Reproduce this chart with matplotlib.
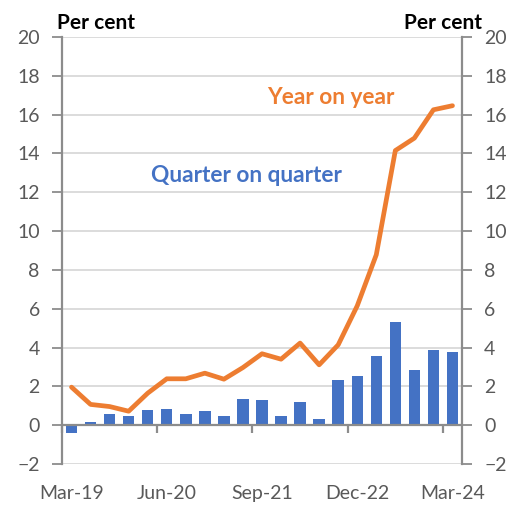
import numpy as np
import matplotlib
matplotlib.use("Agg")
import matplotlib.pyplot as plt

plt.rcParams['font.family'] = ['Lato', 'DejaVu Sans']

quarters = ['Mar-19', 'Jun-19', 'Sep-19', 'Dec-19', 'Mar-20', 'Jun-20', 'Sep-20',
            'Dec-20', 'Mar-21', 'Jun-21', 'Sep-21', 'Dec-21', 'Mar-22', 'Jun-22',
            'Sep-22', 'Dec-22', 'Mar-23', 'Jun-23', 'Sep-23', 'Dec-23', 'Mar-24']
qoq = [-0.38, 0.14, 0.58, 0.45, 0.76, 0.82, 0.58, 0.72, 0.45, 1.37, 1.31,
       0.48, 1.20, 0.34, 2.32, 2.54, 3.57, 5.33, 2.85, 3.87, 3.78]
yoy = [1.96, 1.07, 0.96, 0.72, 1.65, 2.39, 2.39, 2.68, 2.37, 2.97, 3.68,
       3.40, 4.23, 3.11, 4.14, 6.15, 8.78, 14.15, 14.79, 16.25, 16.46]

blue = '#4472C4'
orange = '#ED7D31'
grey = '#595959'
spine = '#8c8c8c'

fig = plt.figure(figsize=(5.12, 5.08), dpi=100)
ax = fig.add_axes([62/512, 44/508, 400/512, 427/508])

x = np.arange(len(quarters))
ax.bar(x, qoq, width=0.6, color=blue, zorder=2)
ax.plot(x, yoy, color=orange, lw=3.4, solid_capstyle='round', zorder=3)

ax.set_xlim(-0.5, len(quarters) - 0.5)
ax.set_ylim(-2, 20)
ax.set_yticks(range(-2, 21, 2))
ax.grid(axis='y', color='#d9d9d9', lw=1.3, zorder=0)
ax.axhline(0, color=spine, lw=1.6, zorder=2.5)

lab_idx = list(range(0, len(quarters), 5))
ax.set_xticks(lab_idx, [quarters[i] for i in lab_idx])
ax.tick_params(axis='x', length=0, pad=15, labelsize=14, labelcolor=grey)
ax.tick_params(axis='y', direction='out', length=7, width=1.3, color=spine,
               labelsize=14, labelcolor=grey, pad=9,
               right=True, labelright=True)
for s in ['left', 'right']:
    ax.spines[s].set_color(spine)
    ax.spines[s].set_linewidth(1.6)
ax.spines['top'].set_visible(False)
ax.spines['bottom'].set_visible(False)

# boundary ticks on the zero line
sec = ax.secondary_xaxis(2 / 22)
sec.set_xticks(np.arange(-0.5, len(quarters), 5))
sec.tick_params(direction='out', length=6, width=1.6, color=spine, labelbottom=False)
sec.spines['bottom'].set_visible(False)

ax.text(10.26, 16.87, 'Year on year', color=orange, fontsize=16.3, fontweight='bold', ha='left', va='center')
ax.text(4.17, 12.85, 'Quarter on quarter', color=blue, fontsize=16.3, fontweight='bold', ha='left', va='center')
fig.text(57/512, 1 - 23/508, 'Per cent', fontsize=15, fontweight='bold', ha='left', va='center')
fig.text(482/512, 1 - 23/508, 'Per cent', fontsize=15, fontweight='bold', ha='right', va='center')

fig.savefig('out.png', dpi=100)
